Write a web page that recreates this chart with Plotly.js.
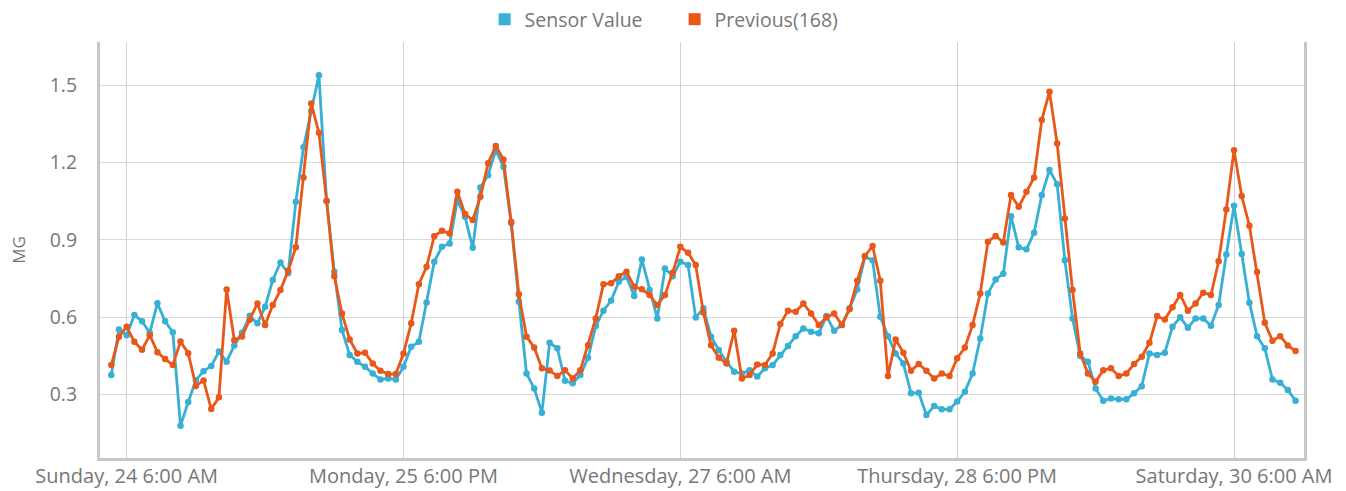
<!DOCTYPE html>
<html>
<head>
<meta charset="utf-8">
<script src="https://cdn.plot.ly/plotly-3.0.1.min.js"></script>
<style>html,body{margin:0;padding:0;background:#fff;}#chart{width:1346px;height:491px;}</style>
</head>
<body>
<div id="chart"></div>
<script>
// Hourly readings, starting Sunday 24 Sep 2023, 04:00
const startTime = '2023-09-24T04:00:00Z';

const sensorValue = [
  0.375,0.552,0.530,0.608,0.584,0.539,0.654,0.584,0.541,0.178,
  0.270,0.355,0.390,0.410,0.466,0.427,0.490,0.539,0.605,0.576,
  0.640,0.744,0.812,0.770,1.048,1.259,1.400,1.539,1.050,0.776,
  0.550,0.453,0.427,0.407,0.381,0.358,0.362,0.358,0.407,0.485,
  0.504,0.657,0.815,0.873,0.886,1.054,0.990,0.869,1.103,1.151,
  1.248,1.184,0.964,0.660,0.381,0.323,0.229,0.500,0.479,0.353,
  0.343,0.375,0.442,0.565,0.625,0.664,0.737,0.757,0.682,0.824,
  0.705,0.595,0.789,0.759,0.815,0.802,0.598,0.634,0.524,0.472,
  0.427,0.388,0.381,0.394,0.369,0.401,0.414,0.453,0.488,0.526,
  0.556,0.543,0.537,0.604,0.547,0.569,0.634,0.707,0.834,0.821,
  0.601,0.526,0.459,0.420,0.304,0.306,0.220,0.255,0.242,0.242,
  0.272,0.310,0.381,0.517,0.692,0.746,0.768,0.992,0.871,0.863,
  0.927,1.074,1.171,1.116,0.821,0.595,0.449,0.427,0.323,0.275,
  0.284,0.281,0.281,0.304,0.332,0.459,0.453,0.462,0.563,0.599,
  0.559,0.595,0.595,0.566,0.647,0.843,1.032,0.845,0.656,0.526,
  0.479,0.358,0.345,0.317,0.275
];

const previousValue = [
  0.414,0.524,0.563,0.504,0.473,0.530,0.464,0.437,0.414,0.505,
  0.460,0.333,0.354,0.243,0.289,0.707,0.510,0.525,0.590,0.653,
  0.569,0.647,0.705,0.780,0.871,1.142,1.429,1.316,1.052,0.759,
  0.614,0.513,0.459,0.462,0.420,0.392,0.379,0.379,0.459,0.576,
  0.728,0.795,0.914,0.935,0.925,1.087,1.000,0.977,1.067,1.197,
  1.264,1.212,0.970,0.689,0.524,0.482,0.401,0.393,0.371,0.394,
  0.362,0.394,0.491,0.595,0.728,0.731,0.759,0.776,0.718,0.708,
  0.686,0.647,0.686,0.772,0.873,0.850,0.802,0.618,0.491,0.442,
  0.420,0.547,0.362,0.375,0.416,0.414,0.459,0.573,0.625,0.621,
  0.653,0.614,0.569,0.599,0.614,0.569,0.630,0.741,0.837,0.876,
  0.741,0.371,0.513,0.462,0.392,0.418,0.392,0.362,0.381,0.371,
  0.440,0.482,0.569,0.692,0.893,0.915,0.890,1.074,1.028,1.087,
  1.142,1.365,1.475,1.274,0.983,0.705,0.459,0.381,0.349,0.394,
  0.401,0.371,0.381,0.418,0.446,0.500,0.604,0.591,0.638,0.686,
  0.625,0.653,0.695,0.686,0.817,1.018,1.248,1.070,0.955,0.775,
  0.578,0.508,0.526,0.490,0.468
];

const seriesNames = ['Sensor Value', 'Previous(168)'];
const seriesColors = ['#38afd4', '#e8581a'];

function stamp(i) {
  const d = new Date(Date.parse(startTime) + i * 3600000);
  return d.toISOString().slice(0, 16).replace('T', ' ');
}
const times = sensorValue.map((_, i) => stamp(i));

const font = 'Open Sans, Noto Sans, sans-serif';
const grey = '#777777';

const traces = [
  {x: times, y: sensorValue, name: seriesNames[0], type: 'scatter', mode: 'lines+markers',
   line: {color: seriesColors[0], width: 2.8}, marker: {color: seriesColors[0], size: 6.5}, showlegend: false},
  {x: times, y: previousValue, name: seriesNames[1], type: 'scatter', mode: 'lines+markers',
   line: {color: seriesColors[1], width: 2.8}, marker: {color: seriesColors[1], size: 6.5}, showlegend: false},
  {x: [null], y: [null], name: seriesNames[0], type: 'scatter', mode: 'markers',
   marker: {color: seriesColors[0], size: 12, symbol: 'square'}, showlegend: true},
  {x: [null], y: [null], name: seriesNames[1], type: 'scatter', mode: 'markers',
   marker: {color: seriesColors[1], size: 12, symbol: 'square'}, showlegend: true}
];

const layout = {
  width: 1346, height: 491,
  margin: {l: 100, r: 42, t: 42, b: 33, pad: 0},
  paper_bgcolor: '#fff', plot_bgcolor: '#fff',
  font: {family: font, color: grey, size: 20},
  showlegend: true,
  legend: {orientation: 'h', xref: 'container', yref: 'container', x: 0.5012, xanchor: 'center',
           y: 1, yanchor: 'top', entrywidth: 145, font: {size: 19.5, color: grey}, bgcolor: 'rgba(0,0,0,0)'},
  xaxis: {
    type: 'date',
    range: ['2023-09-24 02:32', '2023-09-30 15:06'],
    tick0: '2023-09-24 06:00', dtick: 129600000,
    tickformat: '%A, %d %-I:%M %p',
    showgrid: true, gridcolor: '#d2d2d2', gridwidth: 1,
    showline: true, linecolor: '#c8c8c8', linewidth: 3,
    zeroline: false, ticks: '', ticklabelstandoff: -2,
    tickfont: {size: 20, color: grey}
  },
  yaxis: {
    range: [0.053, 1.668], tick0: 0, dtick: 0.3, tickformat: '.1f',
    showgrid: true, gridcolor: '#d9d9d9', gridwidth: 1,
    showline: true, mirror: true, linecolor: '#c8c8c8', linewidth: 3,
    zeroline: false, ticks: '', ticklabelstandoff: 16,
    tickfont: {size: 19.5, color: grey},
    title: {text: 'MG', font: {size: 17, color: grey}, standoff: 20}
  }
};

Plotly.newPlot('chart', traces, layout, {displayModeBar: false, staticPlot: true});
</script>
</body>
</html>
